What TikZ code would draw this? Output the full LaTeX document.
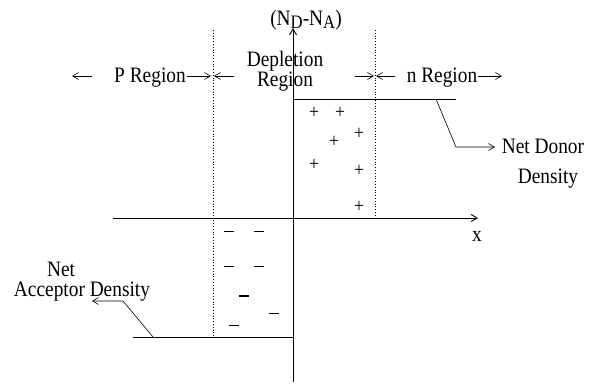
\documentclass[tikz,border=0pt]{standalone}
\usepackage{fontspec}
\setmainfont[FakeStretch=0.88]{Liberation Serif}
\usetikzlibrary{arrows.meta, positioning}
\tikzset{
  lbl/.style={font=\fontsize{22}{18}\selectfont, inner sep=0pt, align=center},
  charge/.style={font=\fontsize{20}{20}\selectfont, inner sep=0pt},
  axisline/.style={draw=black, line width=0.9pt},
  dotline/.style={draw=black, line width=0.8pt, dotted},
  leader/.style={draw=black, line width=0.6pt},
  barb/.style={-{Straight Barb[length=6pt, width=7pt]}},
  minusbar/.style={draw=black, line width=0.8pt}
}
\newcommand{\bigsub}[1]{\raisebox{-3pt}{\fontsize{19}{19}\selectfont #1}}

\begin{document}
\begin{tikzpicture}[x=1pt, y=-1pt]
  \useasboundingbox (0,0) rectangle (589,383);
  % axes
  \coordinate (ybot) at (293,382);
  \coordinate (ytop) at (293,28);
  \coordinate (xleft) at (113,218);
  \coordinate (xright) at (478,218);
  \draw[axisline, barb] (ybot) -- (ytop);
  \draw[axisline, barb] (xleft) -- (xright);
  \node[lbl, anchor=base] (xlab) at (477,241) {x};
  \node[lbl, anchor=base] (head) at (306,25) {(N\bigsub{D}-N\bigsub{A})};

  % charge density levels
  \coordinate (dstart) at (293,99);
  \coordinate (dend) at (456,99);
  \coordinate (astart) at (133,337);
  \coordinate (aend) at (293,337);
  \draw[axisline] (dstart) -- (dend);
  \draw[axisline] (astart) -- (aend);

  % depletion edges
  \coordinate (lt) at (213,30);
  \coordinate (lb) at (213,337);
  \coordinate (rt) at (375,30);
  \coordinate (rb) at (375,218);
  \draw[dotline] (lt) -- (lb);
  \draw[dotline] (rt) -- (rb);

  % region labels
  \node[lbl, anchor=base] (preg) at (150,82) {P Region};
  \node[lbl, anchor=base] (nreg) at (442,82) {n Region};
  \node[lbl] (dreg) at (285,71) {Depletion\\Region};
  \coordinate (pl1) at (92,76);  \coordinate (pl2) at (72,76);
  \coordinate (pr1) at (187,76); \coordinate (pr2) at (211,76);
  \coordinate (dl1) at (234,76); \coordinate (dl2) at (214,76);
  \coordinate (dr1) at (355,76); \coordinate (dr2) at (374,76);
  \coordinate (nl1) at (395,76); \coordinate (nl2) at (376,76);
  \coordinate (nr1) at (478,76); \coordinate (nr2) at (502,76);
  \draw[leader, barb] (pl1) -- (pl2);
  \draw[leader, barb] (pr1) -- (pr2);
  \draw[leader, barb] (dl1) -- (dl2);
  \draw[leader, barb] (dr1) -- (dr2);
  \draw[leader, barb] (nl1) -- (nl2);
  \draw[leader, barb] (nr1) -- (nr2);

  % donor label
  \node[lbl, anchor=base] (don1) at (543,153) {Net Donor};
  \node[lbl, anchor=base] (don2) at (548,183) {Density};
  \coordinate (dk) at (436,99);
  \coordinate (dbend) at (456,147);
  \coordinate (dtip) at (495,147);
  \draw[leader, barb] (dk) -- (dbend) -- (dtip);

  % acceptor label
  \node[lbl, anchor=base] (acc1) at (61,276) {Net};
  \node[lbl, anchor=base] (acc2) at (82,296) {Acceptor Density};
  \coordinate (ak) at (153,337);
  \coordinate (abend) at (123,301);
  \coordinate (atip) at (92,301);
  \draw[leader, barb] (ak) -- (abend) -- (atip);

  % ionised donors
  \foreach \px/\py [count=\i] in {314/113, 340/113, 334/142, 359/134, 314/165, 359/171, 359/207}
    \node[charge] (plus\i) at (\px,\py) {+};
  % ionised acceptors
  \foreach \px/\py/\lw in {229/231/0.8, 259/231/0.8, 229/266/0.8, 259/266/0.8, 244/296/1.6, 274/313/0.8, 234/325/0.8}
    \draw[minusbar, line width=\lw pt] (\px-5,\py) -- (\px+5,\py);
\end{tikzpicture}
\end{document}
